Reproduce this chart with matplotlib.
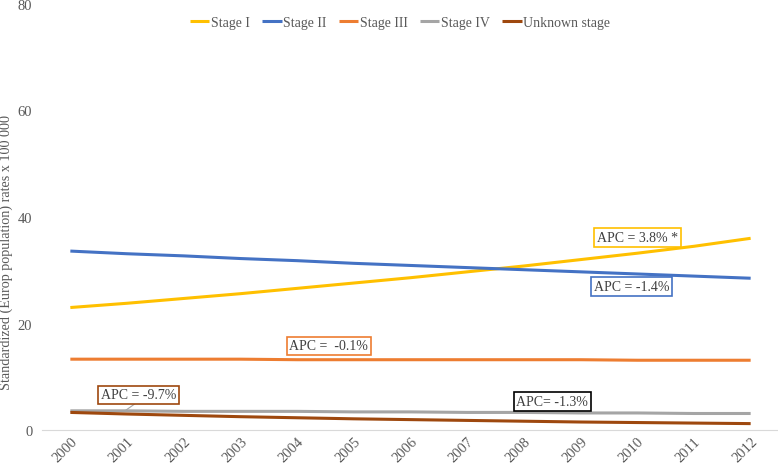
import matplotlib.pyplot as plt

# 数据
years = list(range(2000, 2013))
stage_1 = [23.0, 23.8, 24.7, 25.6, 26.6, 27.6, 28.6, 29.7, 30.8, 32.0, 33.2, 34.5, 36.0]
stage_2 = [33.6, 33.1, 32.7, 32.2, 31.8, 31.3, 30.9, 30.5, 30.1, 29.7, 29.3, 28.9, 28.5]
stage_3 = [13.3, 13.3, 13.3, 13.3, 13.2, 13.2, 13.2, 13.2, 13.2, 13.2, 13.1, 13.1, 13.1]
stage_4 = [3.6, 3.6, 3.5, 3.5, 3.5, 3.4, 3.4, 3.3, 3.3, 3.2, 3.2, 3.1, 3.1]
stage_unknown = [3.3, 3.0, 2.75, 2.5, 2.3, 2.1, 1.95, 1.8, 1.65, 1.5, 1.4, 1.3, 1.2]
series_names = ['Stage I', 'Stage II', 'Stage III', 'Stage IV', 'Unknown stage']
series_colors = ['#FFC000', '#4472C4', '#ED7D31', '#A5A5A5', '#9E480E']
apc_labels = ['APC = 3.8% *', 'APC = -1.4%', 'APC =  -0.1%', 'APC= -1.3%', 'APC = -9.7%']

plt.rcParams['font.family'] = ['Liberation Serif', 'DejaVu Serif']

fig = plt.figure(figsize=(7.78, 4.64), dpi=100)
ax = fig.add_axes([42 / 778, 1 - 431 / 464, 737 / 778, 426 / 464])

all_series = [stage_1, stage_2, stage_3, stage_4, stage_unknown]
for vals, name, col in zip(all_series, series_names, series_colors):
    ax.plot(years, vals, color=col, lw=2.2, label=name, solid_capstyle='butt')

ax.set_xlim(1999.5, 2012.5)
ax.set_ylim(0, 80)
ax.set_yticks([0, 20, 40, 60, 80])
ax.set_xticks(years)
ax.set_xticklabels([str(y) for y in years], rotation=45, ha='right',
                   rotation_mode='anchor', fontsize=10.5, color='#595959')
ax.tick_params(axis='y', labelsize=10.5, colors='#595959', length=0, pad=7)
ax.tick_params(axis='x', length=0, pad=3)
for s in ['top', 'right', 'left']:
    ax.spines[s].set_visible(False)
ax.spines['bottom'].set_color('#D9D9D9')
ax.set_ylabel('Standardized (Europ population) rates x 100 000', fontsize=10.2,
              color='#595959')
ax.yaxis.set_label_coords(-0.04, 0.42)

fig.legend(loc='center', bbox_to_anchor=(400 / 778, 1 - 23 / 464), ncol=5,
           frameon=False, fontsize=10, handlelength=1.4, handletextpad=0.1,
           columnspacing=0.9, labelcolor='#595959')

# APC 标注
box_pos = [(2010.0, 36.2), (2009.9, 27.0), (2004.56, 15.8), (2008.5, 5.3), (2001.2, 6.6)]
for (bx, by), text, col in zip(box_pos, apc_labels, series_colors):
    edge = col
    if text.startswith('APC= -1.3'):
        edge = 'black'
    ax.text(bx, by, text, ha='center', va='center', fontsize=10, color='#404040',
            bbox=dict(boxstyle='square,pad=0.2', fc='white', ec=edge, lw=1.2))
ax.plot([2001.15, 2000.95], [5.0, 3.5], color='#A5A5A5', lw=0.8)

plt.savefig('out.png', dpi=100)
